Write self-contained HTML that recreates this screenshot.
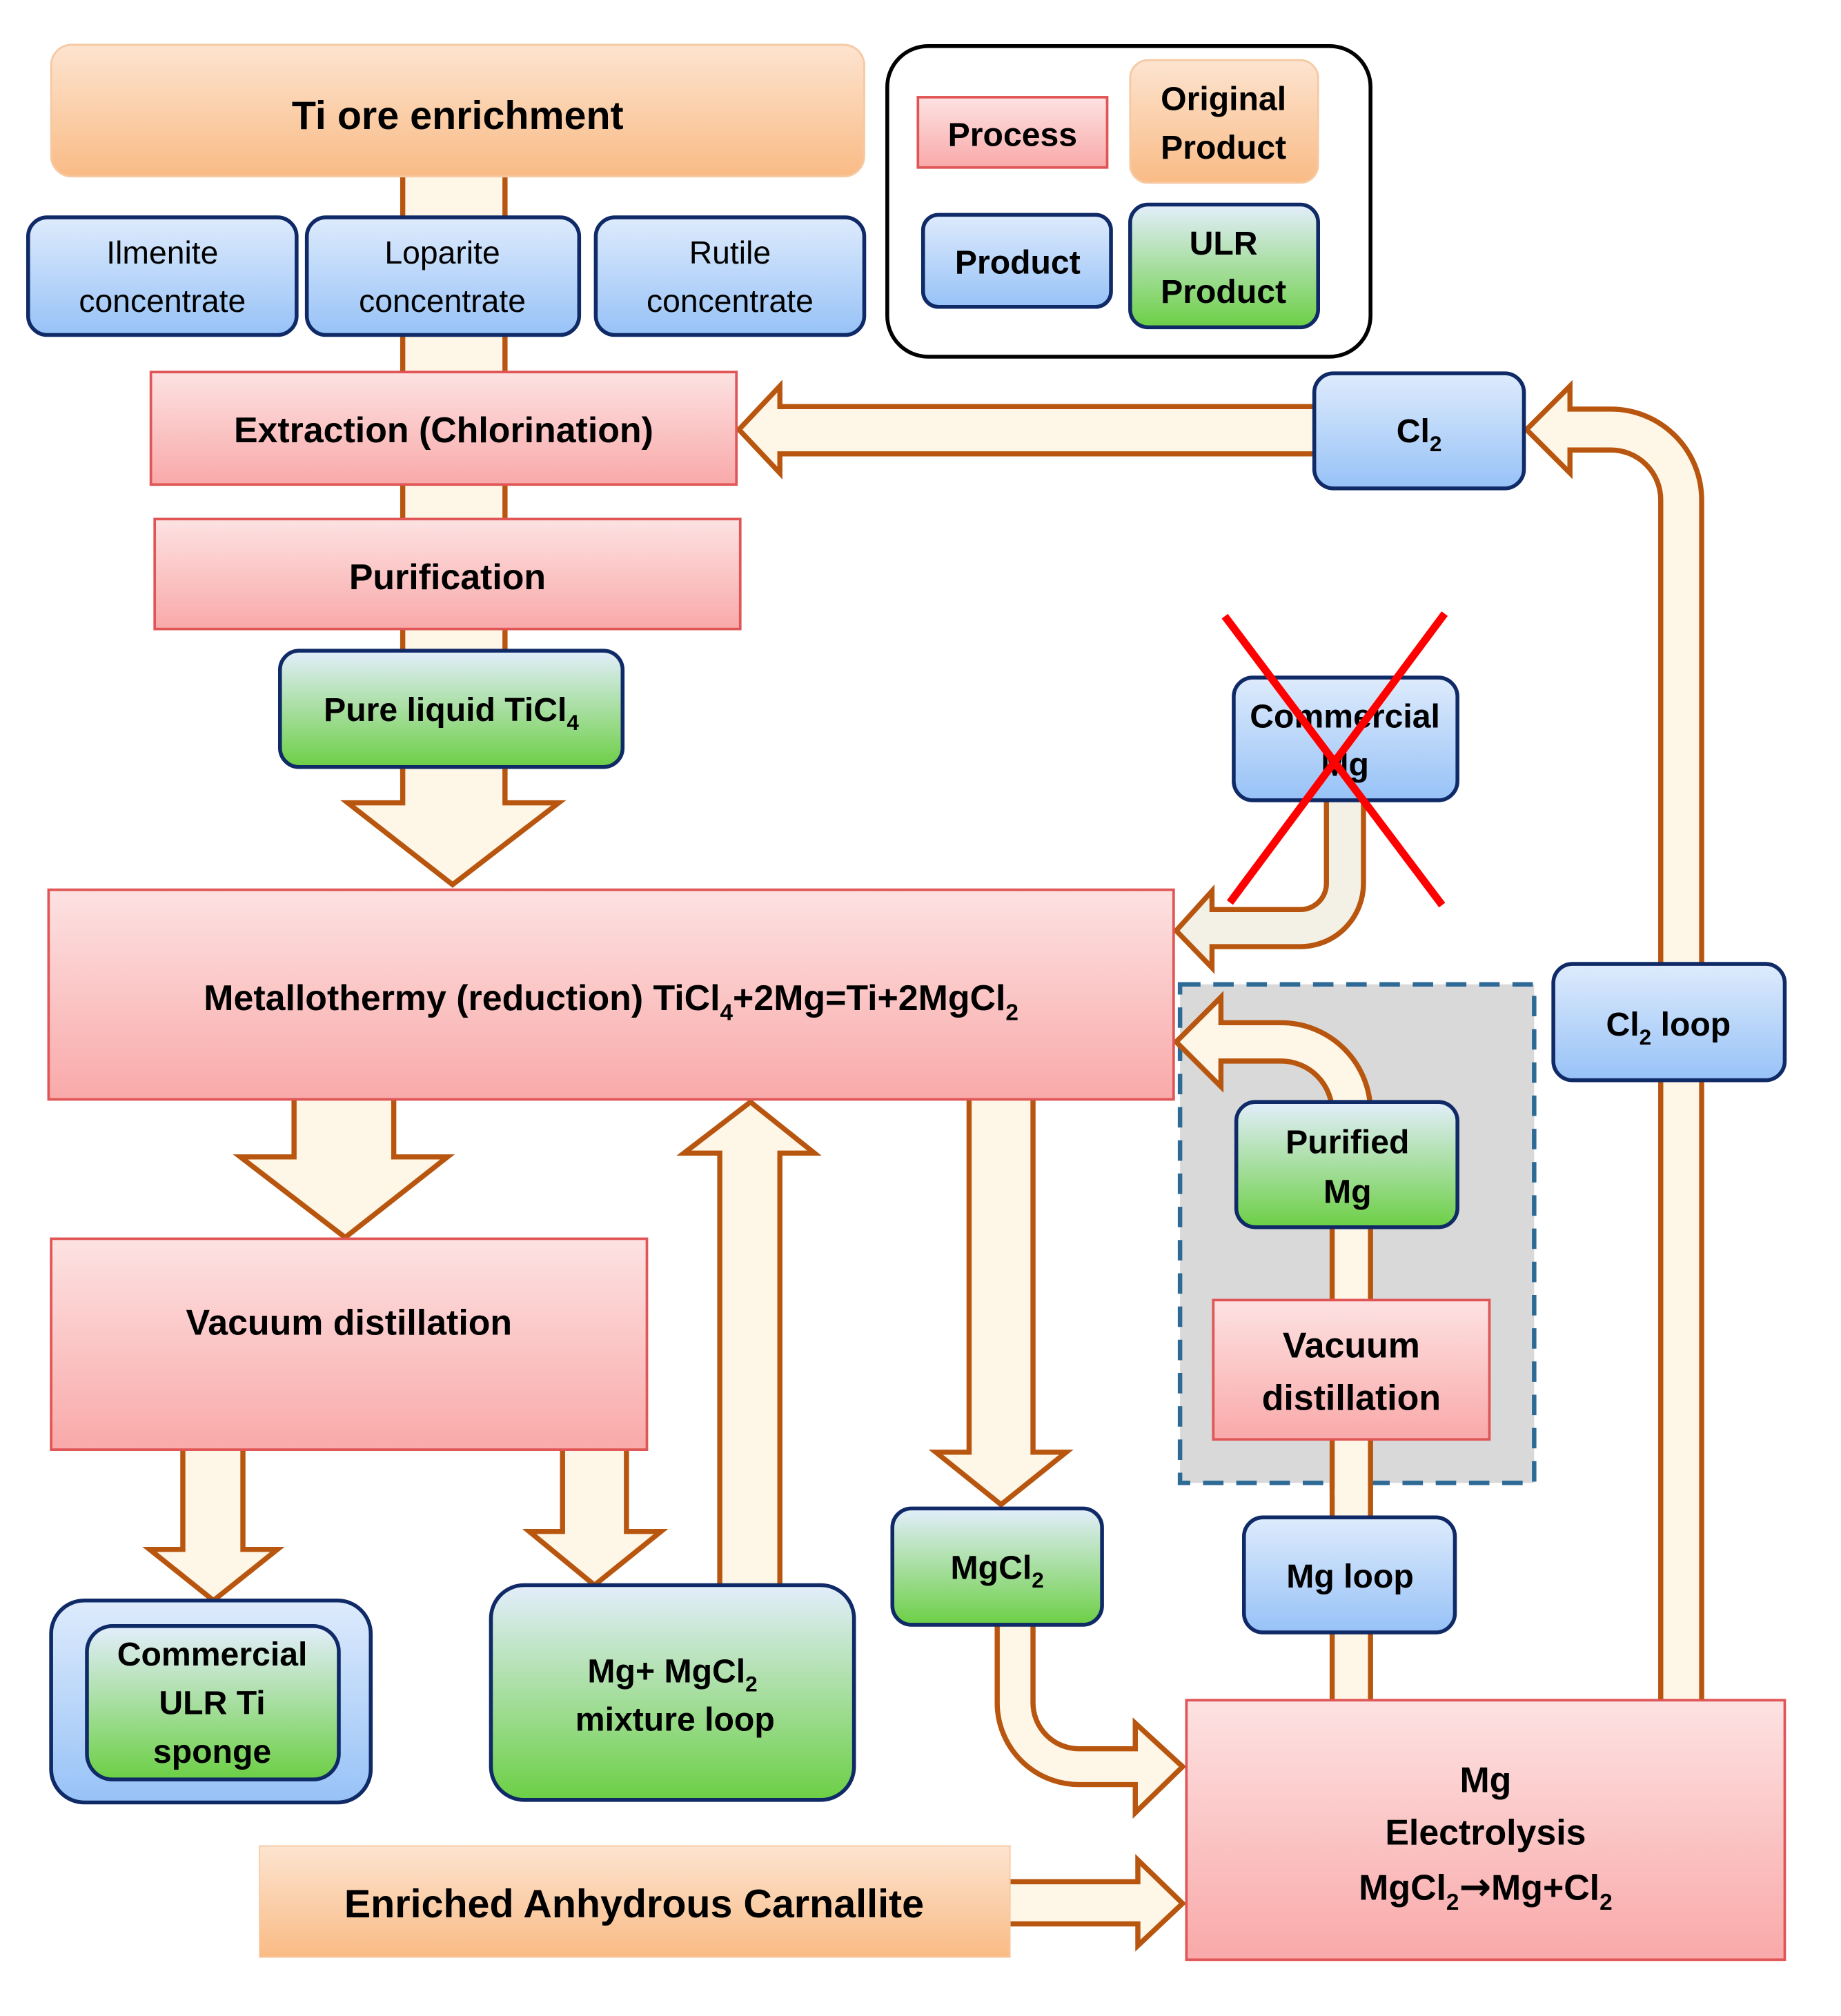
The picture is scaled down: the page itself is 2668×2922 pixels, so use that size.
<!DOCTYPE html>
<html><head><meta charset="utf-8"><style>html,body{margin:0;padding:0;background:#fff}svg{display:block}</style></head>
<body>
<svg xmlns="http://www.w3.org/2000/svg" width="2668" height="2922" viewBox="0 0 1440 1577" font-family="'Liberation Sans', sans-serif">
<defs>
<linearGradient id="gp" x1="0" y1="0" x2="0" y2="1"><stop offset="0" stop-color="#fde2e2"/><stop offset="1" stop-color="#f9a9a9"/></linearGradient>
<linearGradient id="gb" x1="0" y1="0" x2="0" y2="1"><stop offset="0" stop-color="#deebfc"/><stop offset="1" stop-color="#97c2f7"/></linearGradient>
<linearGradient id="gg" x1="0" y1="0" x2="0" y2="1"><stop offset="0" stop-color="#e3eefc"/><stop offset="1" stop-color="#6ccf45"/></linearGradient>
<linearGradient id="go" x1="0" y1="0" x2="0" y2="1"><stop offset="0" stop-color="#fde4d0"/><stop offset="1" stop-color="#f9bb85"/></linearGradient>
</defs>
<g stroke="#b8560f" stroke-width="4" fill="#fef6e7" stroke-linejoin="miter">
<rect x="315" y="136" width="80" height="470"/>
<polygon points="1032,318 610,318 610,302 578,336 610,370 610,355 1032,355"/>
<path d="M1315,1334 V391 A55,55 0 0 0 1260,336 H1224" fill="none" stroke-width="36"/>
<polygon points="1228,302 1194,336 1228,370"/>
<path d="M1315,1334 V391 A55,55 0 0 0 1260,336 H1222" fill="none" stroke="#fef6e7" stroke-width="28"/>
<path d="M1052,622 V691 A35,35 0 0 1 1017,726 H946" fill="none" stroke-width="33"/>
<polygon points="948,697 920,728 948,757" fill="#f3f0e6"/>
<path d="M1052,622 V691 A35,35 0 0 1 1017,726 H944" fill="none" stroke="#f3f0e6" stroke-width="25"/>
<path d="M1057,1334 V870 A55,55 0 0 0 1002,815 H952" fill="none" stroke-width="34"/>
<polygon points="955,780 920,815 955,850"/>
<path d="M1057,1334 V870 A55,55 0 0 0 1002,815 H950" fill="none" stroke="#fef6e7" stroke-width="26"/>
<path d="M794,1268 V1332 A50,50 0 0 0 844,1382 H892" fill="none" stroke-width="32"/>
<polygon points="888,1348 925,1382 888,1418"/>
<path d="M794,1268 V1332 A50,50 0 0 0 844,1382 H894" fill="none" stroke="#fef6e7" stroke-width="24"/>
<polygon points="315,598 395,598 395,628 437,628 354,692 272,628 315,628"/>
<polygon points="230,858 308,858 308,905 350,905 270,968 188,905 230,905"/>
<polygon points="143,1132 190,1132 190,1212 217,1212 167,1252 117,1212 143,1212"/>
<polygon points="440,1132 490,1132 490,1198 517,1198 465,1240 414,1198 440,1198"/>
<polygon points="563,1242 563,902 535,902 587,862 637,902 610,902 610,1242"/>
<polygon points="758,858 808,858 808,1136 834,1136 783,1177 732,1136 758,1136"/>
<polygon points="788,1472 890,1472 890,1455 925,1489 890,1522 890,1505 788,1505"/>
</g>
<rect x="923" y="770" width="277" height="390" fill="#d9d9d9" stroke="#2e6a96" stroke-width="3.5" stroke-dasharray="16,10"/>
<g stroke="#b8560f" stroke-width="4" fill="#fef6e7">
<path d="M1057,1165 V870 A55,55 0 0 0 1002,815 H952" fill="none" stroke-width="34"/>
<polygon points="955,780 920,815 955,850"/>
<path d="M1057,1170 V870 A55,55 0 0 0 1002,815 H950" fill="none" stroke="#fef6e7" stroke-width="26"/>
</g>
<g stroke-width="3">
<rect x="40" y="35" width="636" height="103" rx="16" fill="url(#go)" stroke="#f6c9a3" stroke-width="1.5"/>
<rect x="22" y="170" width="210" height="92" rx="15" fill="url(#gb)" stroke="#0f2a66"/>
<rect x="240" y="170" width="213" height="92" rx="15" fill="url(#gb)" stroke="#0f2a66"/>
<rect x="466" y="170" width="210" height="92" rx="15" fill="url(#gb)" stroke="#0f2a66"/>
<rect x="694" y="36" width="378" height="243" rx="32" fill="#fff" stroke="#000"/>
<rect x="718" y="76" width="148" height="55" fill="url(#gp)" stroke="#e05555" stroke-width="2"/>
<rect x="884" y="47" width="147" height="96" rx="14" fill="url(#go)" stroke="#f6c9a3" stroke-width="1.5"/>
<rect x="722" y="168" width="147" height="72" rx="12" fill="url(#gb)" stroke="#0f2a66"/>
<rect x="884" y="160" width="147" height="96" rx="14" fill="url(#gg)" stroke="#0f2a66"/>
<rect x="118" y="291" width="458" height="88" fill="url(#gp)" stroke="#e05555" stroke-width="2"/>
<rect x="1028" y="292" width="164" height="90" rx="15" fill="url(#gb)" stroke="#0f2a66"/>
<rect x="121" y="406" width="458" height="86" fill="url(#gp)" stroke="#e05555" stroke-width="2"/>
<rect x="219" y="509" width="268" height="91" rx="15" fill="url(#gg)" stroke="#0f2a66"/>
<rect x="965" y="530" width="175" height="96" rx="15" fill="url(#gb)" stroke="#0f2a66"/>
<rect x="38" y="696" width="880" height="164" fill="url(#gp)" stroke="#e05555" stroke-width="2"/>
<rect x="1215" y="754" width="181" height="91" rx="15" fill="url(#gb)" stroke="#0f2a66"/>
<rect x="967" y="862" width="173" height="98" rx="15" fill="url(#gg)" stroke="#0f2a66"/>
<rect x="949" y="1017" width="216" height="109" fill="url(#gp)" stroke="#e05555" stroke-width="2"/>
<rect x="40" y="969" width="466" height="165" fill="url(#gp)" stroke="#e05555" stroke-width="2"/>
<rect x="973" y="1187" width="165" height="90" rx="15" fill="url(#gb)" stroke="#0f2a66"/>
<rect x="698" y="1180" width="164" height="91" rx="15" fill="url(#gg)" stroke="#0f2a66"/>
<rect x="40" y="1252" width="250" height="158" rx="26" fill="url(#gb)" stroke="#0f2a66"/>
<rect x="68" y="1272" width="197" height="120" rx="20" fill="url(#gg)" stroke="#0f2a66"/>
<rect x="384" y="1240" width="284" height="168" rx="26" fill="url(#gg)" stroke="#0f2a66"/>
<rect x="928" y="1330" width="468" height="203" fill="url(#gp)" stroke="#e05555" stroke-width="2"/>
<rect x="203" y="1444" width="587" height="87" fill="url(#go)" stroke="#f6c9a3" stroke-width="1"/>
</g>
<g text-anchor="middle" fill="#000" font-weight="bold" font-size="26">
<text x="358" y="101" font-size="31">Ti ore enrichment</text>
<g font-weight="normal" font-size="25">
<text x="127" y="206">Ilmenite</text><text x="127" y="244">concentrate</text>
<text x="346" y="206">Loparite</text><text x="346" y="244">concentrate</text>
<text x="571" y="206">Rutile</text><text x="571" y="244">concentrate</text>
</g>
<text x="792" y="114">Process</text>
<text x="957" y="86">Original</text><text x="957" y="124">Product</text>
<text x="796" y="214">Product</text>
<text x="957" y="199">ULR</text><text x="957" y="237">Product</text>
<text x="347" y="346" font-size="28">Extraction (Chlorination)</text>
<text x="1110" y="346">Cl<tspan font-size="17" dy="7">2</tspan></text>
<text x="350" y="461" font-size="28">Purification</text>
<text x="353" y="564">Pure liquid TiCl<tspan font-size="17" dy="7">4</tspan></text>
<text x="1052" y="569">Commercial</text><text x="1052" y="607">Mg</text>
<text x="478" y="790" font-size="28">Metallothermy (reduction) TiCl<tspan font-size="18" dy="8">4</tspan><tspan dy="-8">+2Mg=Ti+2MgCl</tspan><tspan font-size="18" dy="8">2</tspan></text>
<text x="1305" y="810">Cl<tspan font-size="17" dy="7">2</tspan><tspan dy="-7"> loop</tspan></text>
<text x="1054" y="902">Purified</text><text x="1054" y="941">Mg</text>
<text x="1057" y="1062" font-size="28">Vacuum</text><text x="1057" y="1103" font-size="28">distillation</text>
<text x="273" y="1044" font-size="28">Vacuum distillation</text>
<text x="1056" y="1242">Mg loop</text>
<text x="780" y="1235">MgCl<tspan font-size="17" dy="7">2</tspan></text>
<text x="166" y="1303">Commercial</text><text x="166" y="1341">ULR Ti</text><text x="166" y="1379">sponge</text>
<text x="526" y="1316">Mg+ MgCl<tspan font-size="17" dy="7">2</tspan></text><text x="528" y="1354">mixture loop</text>
<text x="1162" y="1402" font-size="28">Mg</text>
<text x="1162" y="1443" font-size="28">Electrolysis</text>
<text x="1162" y="1486" font-size="28">MgCl<tspan font-size="18" dy="8">2</tspan><tspan dy="-8" font-family="'DejaVu Sans', sans-serif" font-size="30">→</tspan><tspan>Mg+Cl</tspan><tspan font-size="18" dy="8">2</tspan></text>
<text x="496" y="1500" font-size="31">Enriched Anhydrous Carnallite</text>
</g>
<g stroke="#ff0000" stroke-width="6">
<line x1="958" y1="482" x2="1128" y2="708"/>
<line x1="1130" y1="480" x2="962" y2="706"/>
</g>
</svg>
</body></html>
